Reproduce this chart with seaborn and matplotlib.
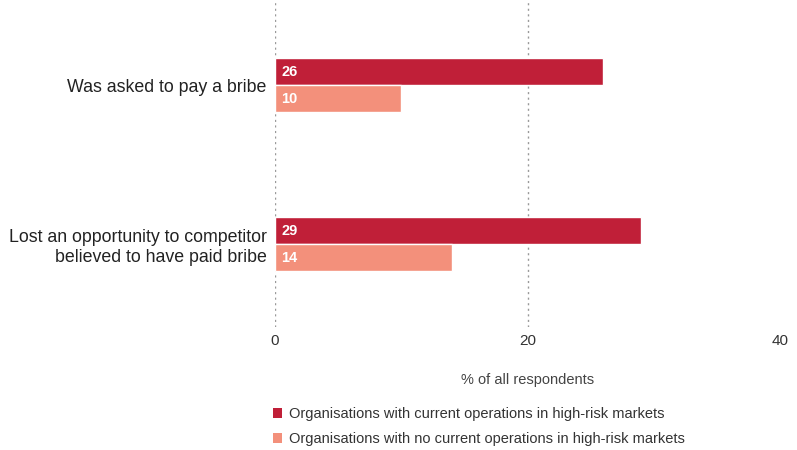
import matplotlib
matplotlib.use("Agg")
import matplotlib.pyplot as plt
import seaborn as sns
import pandas as pd
from matplotlib.patches import Patch

categories = [
    "Was asked to pay a bribe",
    "Lost an opportunity to competitor\nbelieved to have paid bribe",
]
series_names = [
    "Organisations with current operations in high-risk markets",
    "Organisations with no current operations in high-risk markets",
]
current_ops = [26, 29]
no_current_ops = [10, 14]
x_ticks = [0, 20, 40]
x_label = "% of all respondents"

colors = ["#c01f38", "#f3907b"]

df = pd.DataFrame({
    "category": categories * 2,
    "group": [series_names[0]] * len(categories) + [series_names[1]] * len(categories),
    "value": current_ops + no_current_ops,
})

sns.set_theme(style="white")
plt.rcParams["font.family"] = ["Liberation Sans", "DejaVu Sans"]

fig = plt.figure(figsize=(7.97, 4.5), dpi=100)
ax = fig.add_axes([0.345, 0.273, 0.634, 0.727])

sns.barplot(data=df, y="category", x="value", hue="group", orient="h",
            palette=colors, width=0.34, saturation=1, ax=ax, legend=False)

ax.set_xlim(0, 40)
ax.set_ylim(1.522, -0.535)
ax.set_xticks(x_ticks)
ax.set_xticklabels([str(t) for t in x_ticks], fontsize=11, color="#333333")
ax.tick_params(axis="y", length=0, pad=6)
ax.tick_params(axis="x", length=0, pad=5)
ax.set_yticks(range(len(categories)))
ax.set_yticklabels(categories, fontsize=12.8, color="#222222", linespacing=1.25)
ax.set_ylabel("")
ax.set_xlabel(x_label, fontsize=10.5, color="#444444", labelpad=18)

for s in ax.spines.values():
    s.set_visible(False)

ax.grid(axis="x", linestyle=(0, (1.5, 2.5)), color="#999999", linewidth=1)
ax.grid(axis="y", visible=False)
ax.get_xgridlines()[-1].set_visible(False)
ax.set_axisbelow(True)

for container in ax.containers:
    for bar in container:
        w = bar.get_width()
        ax.text(0.5, bar.get_y() + bar.get_height() / 2, f"{w:g}",
                ha="left", va="center", color="white", fontsize=10.5,
                fontweight="bold")

handles = [Patch(facecolor=c, edgecolor="none") for c in colors]
leg = fig.legend(handles, series_names, loc="upper left",
                 bbox_to_anchor=(0.343, 0.095), frameon=False, fontsize=10.5,
                 handlelength=0.6, handleheight=0.6, handletextpad=0.5,
                 labelspacing=0.75, borderaxespad=0, borderpad=0)
for t in leg.get_texts():
    t.set_color("#333333")

fig.savefig("out.png", dpi=100)
